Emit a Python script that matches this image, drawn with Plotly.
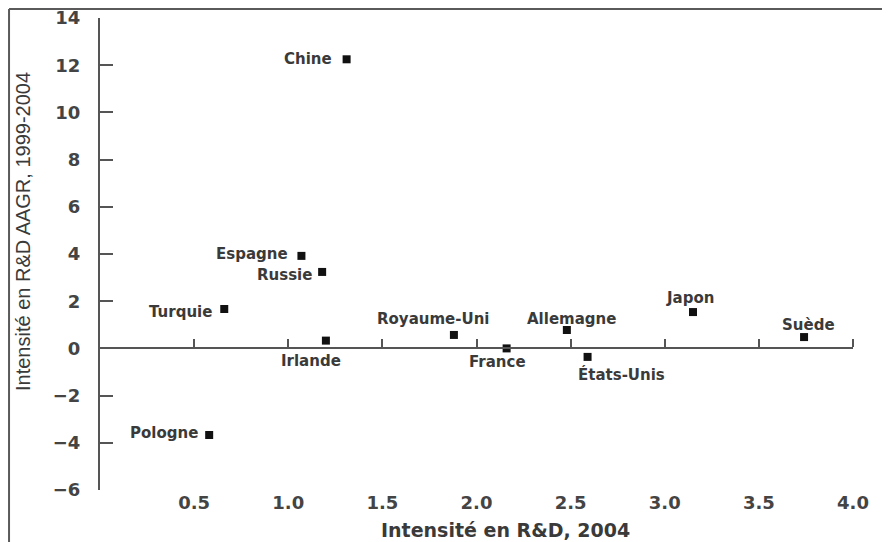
import plotly.graph_objects as go

# ---- data ----
countries = ["Chine", "Espagne", "Russie", "Turquie", "Pologne", "Irlande",
             "Royaume-Uni", "France", "Allemagne", "États-Unis", "Japon", "Suède"]
intensity_2004 = [1.31, 1.07, 1.18, 0.66, 0.58, 1.20, 1.88, 2.16, 2.48, 2.59, 3.15, 3.74]
aagr_1999_2004 = [12.25, 3.92, 3.24, 1.67, -3.67, 0.33, 0.57, 0.0, 0.78, -0.36, 1.54, 0.48]
x_ticks = [0.5, 1.0, 1.5, 2.0, 2.5, 3.0, 3.5, 4.0]
x_tick_labels = ["0.5", "1.0", "1.5", "2.0", "2.5", "3.0", "3.5", "4.0"]
y_ticks = [-6, -4, -2, 0, 2, 4, 6, 8, 10, 12, 14]
x_title = "Intensité en R&D, 2004"
y_title = "Intensité en R&D AAGR, 1999-2004"

# ---- label placement (style: anchor, xshift px, yshift px) ----
label_style = {
    "Chine": ("right", -13, 0),
    "Espagne": ("right", -11, 2),
    "Russie": ("right", -8, -3),
    "Turquie": ("right", -10, -3),
    "Pologne": ("right", -9, 2),
    "Irlande": ("center", -15, -20),
    "Royaume-Uni": ("center", -21, 16),
    "France": ("center", -9, -14),
    "Allemagne": ("center", 5, 11),
    "États-Unis": ("center", 34, -18),
    "Japon": ("center", -3, 14),
    "Suède": ("center", 4, 12),
}

AX = "#555555"
TXT = "#3a3a3a"
BOLD = dict(family="DejaVu Sans", weight="bold")

fig = go.Figure()
fig.add_trace(go.Scatter(
    x=intensity_2004, y=aagr_1999_2004, mode="markers",
    marker=dict(symbol="square", size=8, color="#111111", line=dict(width=0)),
    text=countries, hoverinfo="text", showlegend=False,
))
# empty trace so the zero-line axis (x2) has a subplot
fig.add_trace(go.Scatter(x=[], y=[], xaxis="x2", yaxis="y", showlegend=False))

for c, xv, yv in zip(countries, intensity_2004, aagr_1999_2004):
    anc, dx, dy = label_style[c]
    fig.add_annotation(x=xv, y=yv, text=c, showarrow=False,
                       xanchor=anc, yanchor="middle", xshift=dx, yshift=dy,
                       font=dict(size=15, color=TXT, **BOLD))

fig.add_annotation(xref="paper", yref="paper", x=0.539, y=-0.085, text=x_title,
                   showarrow=False, xanchor="center", yanchor="middle",
                   font=dict(size=19, color=TXT, **BOLD))
fig.add_annotation(xref="paper", yref="paper", x=-0.102, y=0.547, text=y_title,
                   showarrow=False, textangle=-90, xanchor="center", yanchor="middle",
                   font=dict(size=20, color=TXT, family="Liberation Sans"))

# picture frame (left and top border of the original image), at the figure's edge
fx, fy = -0.1208, 1.019
fig.add_shape(type="line", xref="paper", yref="paper", x0=fx, x1=fx, y0=-0.2, y1=fy,
              line=dict(color="#5a5a5a", width=2))
fig.add_shape(type="line", xref="paper", yref="paper", x0=fx, x1=1.2, y0=fy, y1=fy,
              line=dict(color="#5a5a5a", width=2))

fig.update_layout(
    width=890, height=542,
    margin=dict(l=92, r=45, t=10, b=60, autoexpand=False),
    paper_bgcolor="white", plot_bgcolor="white",
    xaxis=dict(range=[0, 4], tickvals=x_ticks, ticktext=x_tick_labels,
               showline=False, ticks="", showgrid=False, zeroline=False,
               automargin=False, ticklabeloverflow="allow",
               tickfont=dict(size=18, color="#444444", **BOLD)),
    xaxis2=dict(range=[0, 4], overlaying="x", anchor="free", position=0.3, side="top",
                tickvals=x_ticks, showticklabels=False, ticks="outside", ticklen=8,
                tickwidth=2, tickcolor=AX, showline=True, linecolor=AX, linewidth=2,
                showgrid=False, zeroline=False, automargin=False),
    yaxis=dict(range=[-6, 14], tickvals=y_ticks, ticks="inside", ticklen=13,
               tickwidth=2, tickcolor=AX, showline=True, linecolor=AX, linewidth=2,
               showgrid=False, zeroline=False, ticklabelstandoff=14, automargin=False,
               ticklabeloverflow="allow",
               tickfont=dict(size=18, color="#444444", **BOLD)),
)

fig.write_html("out.html")
